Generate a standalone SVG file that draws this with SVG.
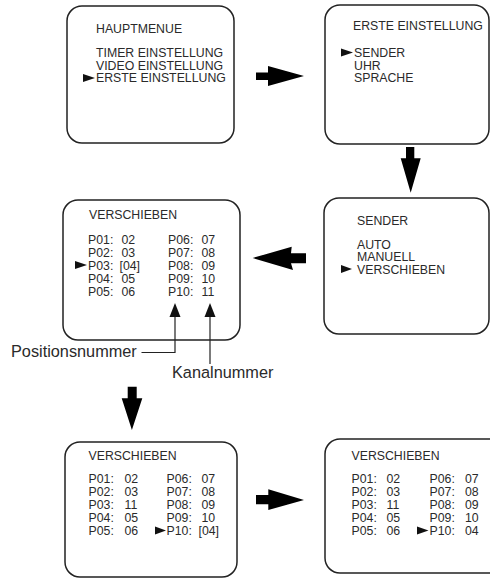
<svg xmlns="http://www.w3.org/2000/svg" width="490" height="581" viewBox="0 0 490 581">
<style>
.box{fill:#fff;stroke:#222;stroke-width:1.5}
text{font-family:"Liberation Sans",Arial,sans-serif;font-size:12.3px;fill:#2a2a2a}
.lbl{font-size:16.3px}
.tri{fill:#111}
.big{fill:#000}
.ln{fill:none;stroke:#222;stroke-width:1.2}
</style>
<rect width="490" height="581" fill="#fff"/>

<g id="hauptmenue">
<rect class="box" x="67" y="6" width="167" height="137" rx="15"/>
<text x="96" y="33">HAUPTMENUE</text>
<text x="96" y="57">TIMER EINSTELLUNG</text>
<text x="96" y="69.5">VIDEO EINSTELLUNG</text>
<polygon class="tri" points="83,74 95,78 83,82"/>
<text x="96" y="82">ERSTE EINSTELLUNG</text>
</g>

<g id="erste-einstellung">
<rect class="box" x="325" y="5" width="164" height="139" rx="15"/>
<text x="353" y="30">ERSTE EINSTELLUNG</text>
<polygon class="tri" points="341,48.5 353,52.5 341,56.5"/>
<text x="354" y="57">SENDER</text>
<text x="354" y="69.5">UHR</text>
<text x="354" y="82">SPRACHE</text>
</g>

<g id="sender">
<rect class="box" x="324" y="198" width="165" height="136" rx="15"/>
<text x="357" y="225">SENDER</text>
<text x="357" y="248.5">AUTO</text>
<text x="357" y="261">MANUELL</text>
<polygon class="tri" points="341,265 352,269 341,273"/>
<text x="357" y="273.5">VERSCHIEBEN</text>
</g>

<g id="verschieben-1">
<rect class="box" x="63" y="200" width="177" height="140" rx="15"/>
<text x="89" y="218.5">VERSCHIEBEN</text>
<text x="88" y="243.5">P01:</text><text x="121.5" y="243.5">02</text><text x="168" y="243.5">P06:</text><text x="201.5" y="243.5">07</text>
<text x="88" y="256.5">P02:</text><text x="121.5" y="256.5">03</text><text x="168" y="256.5">P07:</text><text x="201.5" y="256.5">08</text>
<polygon class="tri" points="75,261 87,265 75,269"/>
<text x="88" y="269.5">P03:</text><text x="119.5" y="269.5">[04]</text><text x="168" y="269.5">P08:</text><text x="201.5" y="269.5">09</text>
<text x="88" y="282.5">P04:</text><text x="121.5" y="282.5">05</text><text x="168" y="282.5">P09:</text><text x="201.5" y="282.5">10</text>
<text x="88" y="295.5">P05:</text><text x="121.5" y="295.5">06</text><text x="168" y="295.5">P10:</text><text x="201.5" y="295.5">11</text>
</g>

<g id="verschieben-2">
<rect class="box" x="65" y="442" width="172" height="135" rx="15"/>
<text x="88.5" y="460">VERSCHIEBEN</text>
<text x="88.5" y="483">P01:</text><text x="124.5" y="483">02</text><text x="166.5" y="483">P06:</text><text x="201.5" y="483">07</text>
<text x="88.5" y="496">P02:</text><text x="124.5" y="496">03</text><text x="166.5" y="496">P07:</text><text x="201.5" y="496">08</text>
<text x="88.5" y="509">P03:</text><text x="124.5" y="509">11</text><text x="166.5" y="509">P08:</text><text x="201.5" y="509">09</text>
<text x="88.5" y="522">P04:</text><text x="124.5" y="522">05</text><text x="166.5" y="522">P09:</text><text x="201.5" y="522">10</text>
<polygon class="tri" points="155,526.5 166,530.5 155,534.5"/>
<text x="88.5" y="535">P05:</text><text x="124.5" y="535">06</text><text x="166.5" y="535">P10:</text><text x="198.5" y="535">[04]</text>
</g>

<g id="verschieben-3">
<rect class="box" x="325" y="439" width="185" height="134" rx="15"/>
<text x="351.5" y="459.5">VERSCHIEBEN</text>
<text x="351.5" y="483">P01:</text><text x="386.5" y="483">02</text><text x="429.5" y="483">P06:</text><text x="465" y="483">07</text>
<text x="351.5" y="496">P02:</text><text x="386.5" y="496">03</text><text x="429.5" y="496">P07:</text><text x="465" y="496">08</text>
<text x="351.5" y="509">P03:</text><text x="386.5" y="509">11</text><text x="429.5" y="509">P08:</text><text x="465" y="509">09</text>
<text x="351.5" y="522">P04:</text><text x="386.5" y="522">05</text><text x="429.5" y="522">P09:</text><text x="465" y="522">10</text>
<polygon class="tri" points="417,526.5 428.5,530.5 417,534.5"/>
<text x="351.5" y="535">P05:</text><text x="386.5" y="535">06</text><text x="429.5" y="535">P10:</text><text x="465" y="535">04</text>
</g>

<g id="labels">
<text class="lbl" x="11" y="357">Positionsnummer</text>
<text class="lbl" x="172" y="378">Kanalnummer</text>
</g>

<g id="connectors">
<polygon class="big" points="256,72.5 268,72.5 268,66 304,76 268,86 268,80 256,80"/>
<polygon class="big" points="406,147 414.3,147 414.3,158.3 420.7,158.3 410.7,192.7 400.7,158.3 406,158.3"/>
<polygon class="big" points="306,253.3 291,253.3 291.7,246.7 252.7,258 293,270 291,263.3 306,263.3"/>
<polygon class="big" points="127.7,386.7 136.7,386.7 136.7,398.3 142.3,398.3 131.9,430 121.7,398.3 127.7,398.3"/>
<polygon class="big" points="256,495 268.3,495 268.3,489.3 304,500 268.3,510 268.3,504.3 256,504.3"/>
<polyline class="ln" points="175,315 175,352.5 141.5,352.5"/>
<polygon class="tri" points="175,303 180.5,317 169.5,317"/>
<line class="ln" x1="210" y1="315" x2="210" y2="364"/>
<polygon class="tri" points="210,303 215.5,317 204.5,317"/>
</g>
</svg>
